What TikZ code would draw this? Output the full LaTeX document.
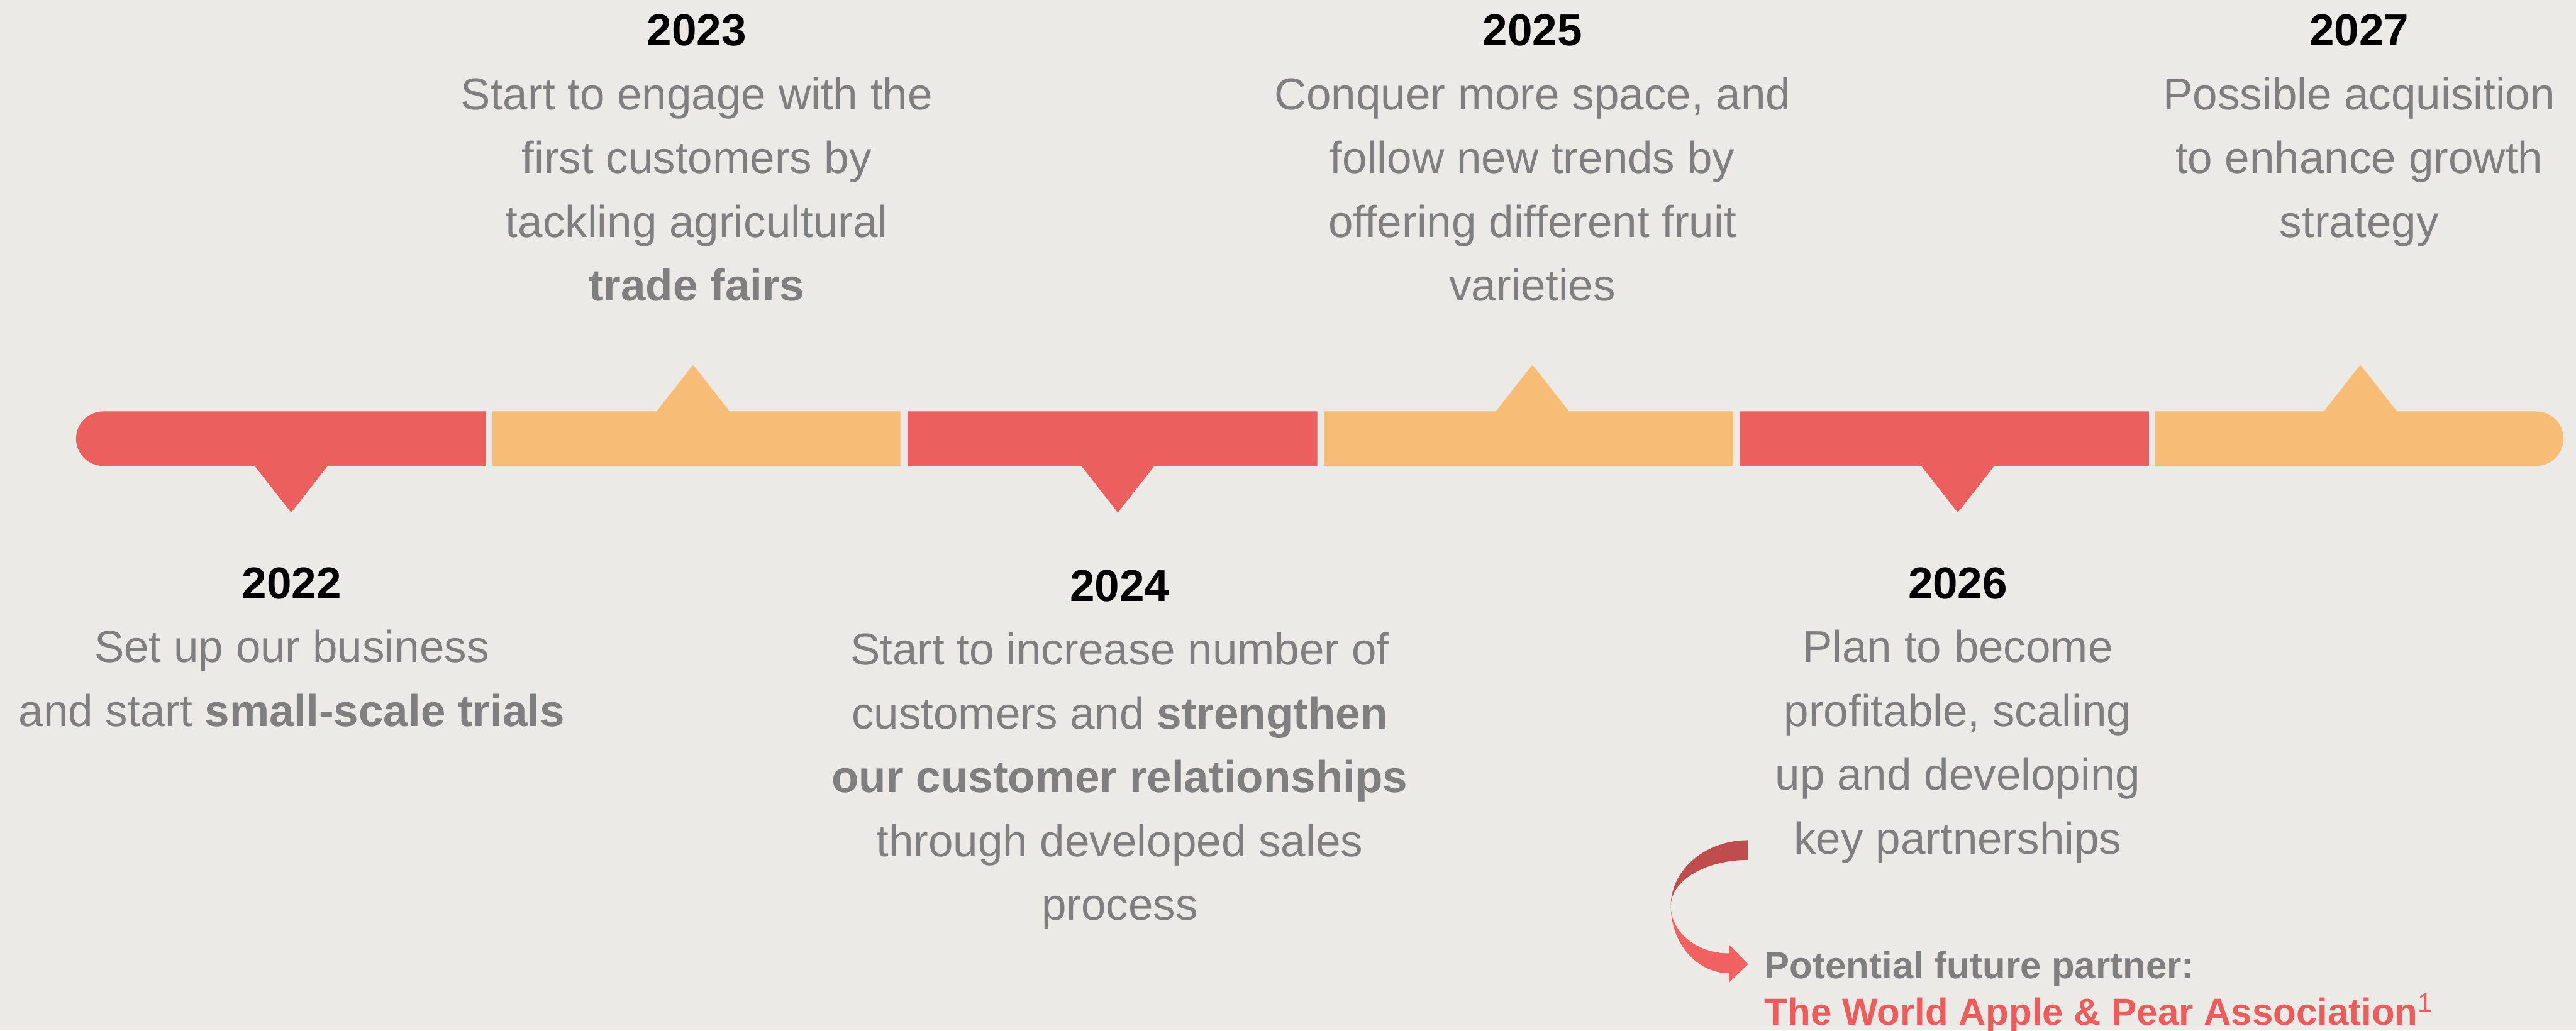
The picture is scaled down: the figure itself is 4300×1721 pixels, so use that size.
\documentclass[tikz,border=0pt]{standalone}
\usepackage{fontspec}
\setmainfont{Liberation Sans}
\definecolor{paper}{HTML}{EBEAE6}
\definecolor{barred}{HTML}{EC5F5F}
\definecolor{barorange}{HTML}{F7BD77}
\definecolor{txtgray}{HTML}{7F7F7F}
\definecolor{arrowdark}{HTML}{C04D4D}
\definecolor{arrowlight}{HTML}{F06262}
\definecolor{partnerred}{HTML}{EE5B5B}
\newcommand\yearmark[1]{{\color{black}\bfseries #1}}
\begin{document}
\begin{tikzpicture}[x=0.01cm,y=-0.01cm,
  event/.style={anchor=base,inner sep=0pt,text=txtgray,
    font=\fontsize{21.2}{30.3}\selectfont},
  note/.style={anchor=base west,inner sep=0pt,text=txtgray,
    font=\fontsize{17.9}{22.2}\selectfont}]

% canvas
\fill[paper] (0,0) rectangle (4300,1721);
\useasboundingbox (0,0) rectangle (4300,1721);

% timeline bar: six segments with pointers
\fill[barred] (811,687) -- (172.5,687)
  arc[start angle=90,end angle=270,radius=0.455cm]
  -- (425,778) -- (482.3,851.3) .. controls (486,856) .. (489.7,851.3)
  -- (547,778) -- (811,778) -- cycle;
\fill[barorange] (822,687) -- (1096,687)
  -- (1153.3,613.7) .. controls (1157,609) .. (1160.7,613.7)
  -- (1218,687) -- (1503,687) -- (1503,778) -- (822,778) -- cycle;
\fill[barred] (1515,687) -- (2199,687) -- (2199,778) -- (1927,778)
  -- (1869.7,851.3) .. controls (1866,856) .. (1862.3,851.3)
  -- (1805,778) -- (1515,778) -- cycle;
\fill[barorange] (2210,687) -- (2497,687)
  -- (2554.3,613.7) .. controls (2558,609) .. (2561.7,613.7)
  -- (2619,687) -- (2893,687) -- (2893,778) -- (2210,778) -- cycle;
\fill[barred] (2904,687) -- (3587,687) -- (3587,778) -- (3329,778)
  -- (3271.7,851.3) .. controls (3268,856) .. (3264.3,851.3)
  -- (3207,778) -- (2904,778) -- cycle;
\fill[barorange] (3597,687) -- (3879,687)
  -- (3936.3,613.7) .. controls (3940,609) .. (3943.7,613.7)
  -- (4001,687) -- (4233.5,687)
  arc[start angle=90,end angle=-90,radius=0.455cm]
  -- (3597,778) -- cycle;

% milestones above the bar
\node[event] (y23) at (1163,76.5) {\begin{tabular}[t]{@{}c@{}}\yearmark{2023}\\
  Start to engage with the\\ first customers by\\ tackling agricultural\\
  \textbf{trade fairs}\end{tabular}};
\node[event] (y25) at (2558,76.5) {\begin{tabular}[t]{@{}c@{}}\yearmark{2025}\\
  Conquer more space, and\\ follow new trends by\\ offering different fruit\\
  varieties\end{tabular}};
\node[event] (y27) at (3938,76.5) {\begin{tabular}[t]{@{}c@{}}\yearmark{2027}\\
  Possible acquisition\\ to enhance growth\\ strategy\end{tabular}};

% milestones below the bar
\node[event] (y22) at (487,999.5) {\begin{tabular}[t]{@{}c@{}}\yearmark{2022}\\
  Set up our business\\ and start \textbf{small-scale trials}\end{tabular}};
\node[event] (y24) at (1869,1004) {\begin{tabular}[t]{@{}c@{}}\yearmark{2024}\\
  Start to increase number of\\ customers and \textbf{strengthen}\\
  \textbf{our customer relationships}\\ through developed sales\\
  process\end{tabular}};
\node[event] (y26) at (3268,999.5) {\begin{tabular}[t]{@{}c@{}}\yearmark{2026}\\
  Plan to become\\ profitable, scaling\\ up and developing\\
  key partnerships\end{tabular}};

% curved block arrow towards the partner note
\fill[arrowdark] (2918,1403)
  arc[start angle=90,end angle=180,x radius=1.29cm,y radius=1.10cm]
  arc[start angle=180,end angle=90,x radius=1.29cm,y radius=0.77cm] -- cycle;
\fill[arrowlight] (2789,1513)
  arc[start angle=180,end angle=270,x radius=0.97cm,y radius=1.12cm]
  -- (2886,1641) -- (2918,1610) -- (2886,1577) -- (2886,1592)
  arc[start angle=270,end angle=180,x radius=0.97cm,y radius=0.79cm] -- cycle;

\node[note] (partner) at (2945,1634) {\begin{tabular}[t]{@{}l@{}}\textbf{Potential future partner:}\\
  {\color{partnerred}\textbf{The World Apple \& Pear Association}\textsuperscript{1}}\end{tabular}};
\end{tikzpicture}
\end{document}
